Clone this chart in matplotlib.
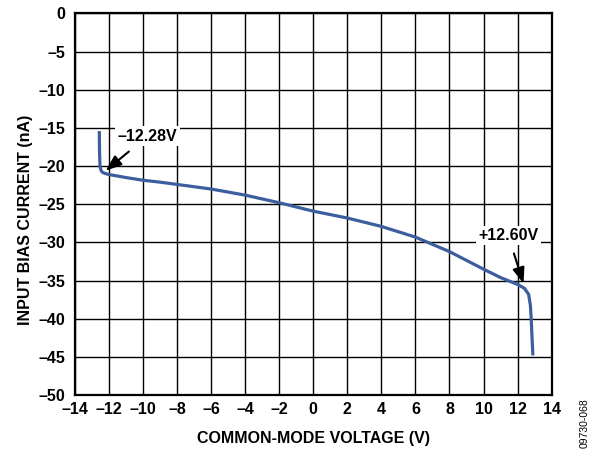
import matplotlib
matplotlib.use('Agg')
import matplotlib.pyplot as plt

plt.rcParams['font.family'] = ['Liberation Sans', 'DejaVu Sans']
plt.rcParams['font.weight'] = 'bold'
plt.rcParams['axes.labelweight'] = 'bold'

# curve
voltage = [-12.57, -12.56, -12.53, -12.48, -12.4, -12.25, -12.0, -11.0, -10.0, -9.0, -8.0,
           -6.0, -4.0, -2.0, 0.0, 2.0, 4.0, 6.0, 8.0, 10.0, 11.0, 12.0, 12.4,
           12.65, 12.75, 12.8, 12.85, 12.9]
bias_current = [-15.4, -18.0, -20.0, -20.5, -20.8, -20.95, -21.1, -21.5, -21.85, -22.1, -22.4,
                -23.0, -23.8, -24.8, -25.9, -26.8, -27.9, -29.3, -31.2, -33.5, -34.6, -35.5, -36.0,
                -36.8, -38.2, -40.0, -42.5, -44.8]

x_ticks = list(range(-14, 15, 2))
y_ticks = list(range(-50, 1, 5))

fig = plt.figure(figsize=(5.97, 4.49), dpi=100)
ax = fig.add_axes([0.1256, 0.12, 0.7984, 0.85])

ax.plot(voltage, bias_current, color='#3d5e9e', linewidth=2.3, solid_capstyle='butt',
        solid_joinstyle='round', zorder=3)

ax.set_xlim(-14, 14)
ax.set_ylim(-50, 0)
ax.set_xticks(x_ticks)
ax.set_yticks(y_ticks)
ax.set_xticklabels([str(t).replace('-', '\u2013') for t in x_ticks])
ax.set_yticklabels([str(t).replace('-', '\u2013') for t in y_ticks])
ax.tick_params(length=0, labelsize=11.5)
ax.tick_params(axis='x', pad=5)
ax.tick_params(axis='y', pad=7)
ax.grid(True, color='black', linewidth=1.0)
for s in ax.spines.values():
    s.set_linewidth(1.6)

ax.set_xlabel('COMMON-MODE VOLTAGE (V)', fontsize=11.5, labelpad=10)
ax.set_ylabel('INPUT BIAS CURRENT (nA)', fontsize=11.5, labelpad=8)
ax.yaxis.set_label_coords(-0.088, 0.46)

# annotations
arrow = dict(arrowstyle='-|>,head_length=0.8,head_width=0.3', color='black', lw=1.5,
             shrinkA=6, shrinkB=0, mutation_scale=12)
box = dict(boxstyle='square,pad=0.15', fc='white', ec='none')
ax.annotate('\u201312.28V', xy=(-12.2, -20.6), xytext=(-9.75, -16.1),
            fontsize=11.5, fontweight='bold', ha='center', va='center',
            bbox=box, arrowprops=arrow, zorder=5)
ax.annotate('+12.60V', xy=(12.35, -35.4), xytext=(11.45, -29.1),
            fontsize=11.5, fontweight='bold', ha='center', va='center',
            bbox=box, arrowprops=arrow, zorder=5)

fig.text(0.98, 0.058, '09730-068', rotation=90, fontsize=7.5, fontweight='normal',
         ha='center', va='center')

fig.savefig('out.png', dpi=100)
